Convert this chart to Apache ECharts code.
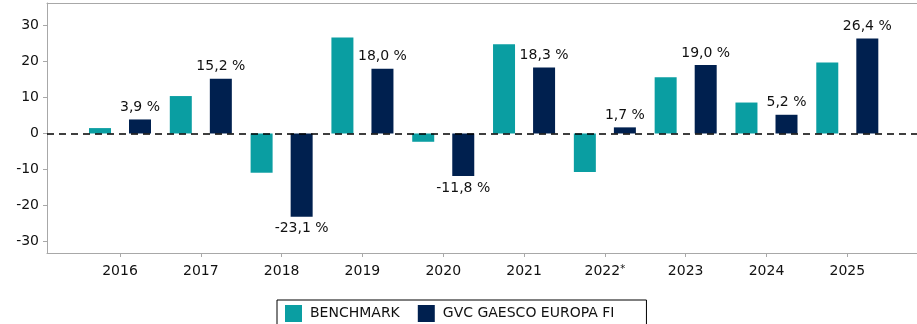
<!DOCTYPE html>
<html>
<head>
<meta charset="utf-8">
<script src="https://cdn.jsdelivr.net/npm/echarts@6/dist/echarts.min.js"></script>
<style>
  html, body { margin: 0; padding: 0; background: #fff; }
  #chart { width: 917px; height: 324px; }
</style>
</head>
<body>
<div id="chart"></div>
<script>
// Annual returns (%) per calendar year
const years = ['2016', '2017', '2018', '2019', '2020', '2021', '2022*', '2023', '2024', '2025'];
const benchmark = [1.5, 10.4, -10.9, 26.7, -2.3, 24.8, -10.7, 15.6, 8.6, 19.7];
const fund = [3.9, 15.2, -23.1, 18.0, -11.8, 18.3, 1.7, 19.0, 5.2, 26.4];
const yTicks = [-30, -20, -10, 0, 10, 20, 30];

const TEAL = '#0a9ea2';
const NAVY = '#00204f';
const FRAME = '#a8a8a8';
const TEXT = '#111';
const FONT = 'DejaVu Sans';
const Y_MIN = -33.2, Y_MAX = 36.25;

const pct = v => v.toFixed(1).replace('.', ',') + ' %';

const fundData = fund.map(v => ({
  value: v,
  label: { position: v < 0 ? 'bottom' : 'top' }
}));

const chart = echarts.init(document.getElementById('chart'), null, { renderer: 'canvas' });
chart.setOption({
  animation: false,
  textStyle: { fontFamily: FONT },
  grid: [
    // outer frame with value scale
    { left: 47, right: 0, top: 3, bottom: 71 },
    // inner band holding the year categories
    { left: 79.6, right: 29.3, top: 3, bottom: 71 }
  ],
  xAxis: [
    { gridIndex: 0, type: 'value', min: 0, max: 1, position: 'top',
      axisLine: { show: true, onZero: false, lineStyle: { color: FRAME, width: 1 } },
      axisTick: { show: false }, axisLabel: { show: false }, splitLine: { show: false } },
    { gridIndex: 0, type: 'value', min: 0, max: 1, position: 'bottom',
      axisLine: { show: true, onZero: false, lineStyle: { color: FRAME, width: 1 } },
      axisTick: { show: false }, axisLabel: { show: false }, splitLine: { show: false } },
    { gridIndex: 1, type: 'category', data: years, position: 'bottom',
      axisLine: { show: false, onZero: false },
      axisTick: { show: true, alignWithLabel: true, interval: 0, length: 4, lineStyle: { color: FRAME } },
      axisLabel: {
        interval: 0,
        color: TEXT, fontSize: 14, fontFamily: FONT, margin: 11,
        formatter: v => v.endsWith('*') ? v.slice(0, -1) + '{s|*}' : v,
        rich: { s: { fontSize: 10, fontFamily: FONT, color: TEXT, verticalAlign: 'top', padding: [0, 0, 5, 0] } }
      },
      splitLine: { show: false } }
  ],
  yAxis: [
    { gridIndex: 0, type: 'value', min: Y_MIN, max: Y_MAX,
      axisLine: { show: true, lineStyle: { color: FRAME, width: 1 } },
      axisTick: { show: true, length: 4, customValues: yTicks, lineStyle: { color: FRAME } },
      axisLabel: { color: TEXT, fontSize: 14, fontFamily: FONT, margin: 8, customValues: yTicks },
      splitLine: { show: false } },
    { gridIndex: 1, type: 'value', min: Y_MIN, max: Y_MAX, show: false,
      splitLine: { show: false } }
  ],
  legend: {
    data: ['BENCHMARK', 'GVC GAESCO EUROPA FI'],
    left: 277, top: 300,
    orient: 'horizontal',
    icon: 'rect', itemWidth: 17, itemHeight: 17, itemGap: 18,
    padding: [5, 32, 6, 8],
    borderColor: '#000', borderWidth: 1, borderRadius: 0,
    backgroundColor: '#fff',
    textStyle: { color: TEXT, fontSize: 14, fontFamily: FONT, padding: [0, 0, 0, 3] }
  },
  series: [
    { name: 'BENCHMARK', type: 'bar', xAxisIndex: 2, yAxisIndex: 1,
      data: benchmark, barWidth: 22, barGap: '82%',
      itemStyle: { color: TEAL } },
    { name: 'GVC GAESCO EUROPA FI', type: 'bar', xAxisIndex: 2, yAxisIndex: 1,
      data: fundData, barWidth: 22, barGap: '82%',
      itemStyle: { color: NAVY },
      label: { show: true, distance: 5, color: TEXT, fontSize: 14, fontFamily: FONT,
               formatter: p => pct(p.value) } },
    // dashed zero line across the full frame
    { type: 'line', xAxisIndex: 0, yAxisIndex: 0, data: [], z: 10, silent: true,
      markLine: {
        silent: true, symbol: ['none', 'none'], label: { show: false },
        lineStyle: { color: '#000', type: [7, 5], width: 1.5 },
        data: [{ yAxis: 0 }]
      } }
  ]
});
</script>
</body>
</html>
